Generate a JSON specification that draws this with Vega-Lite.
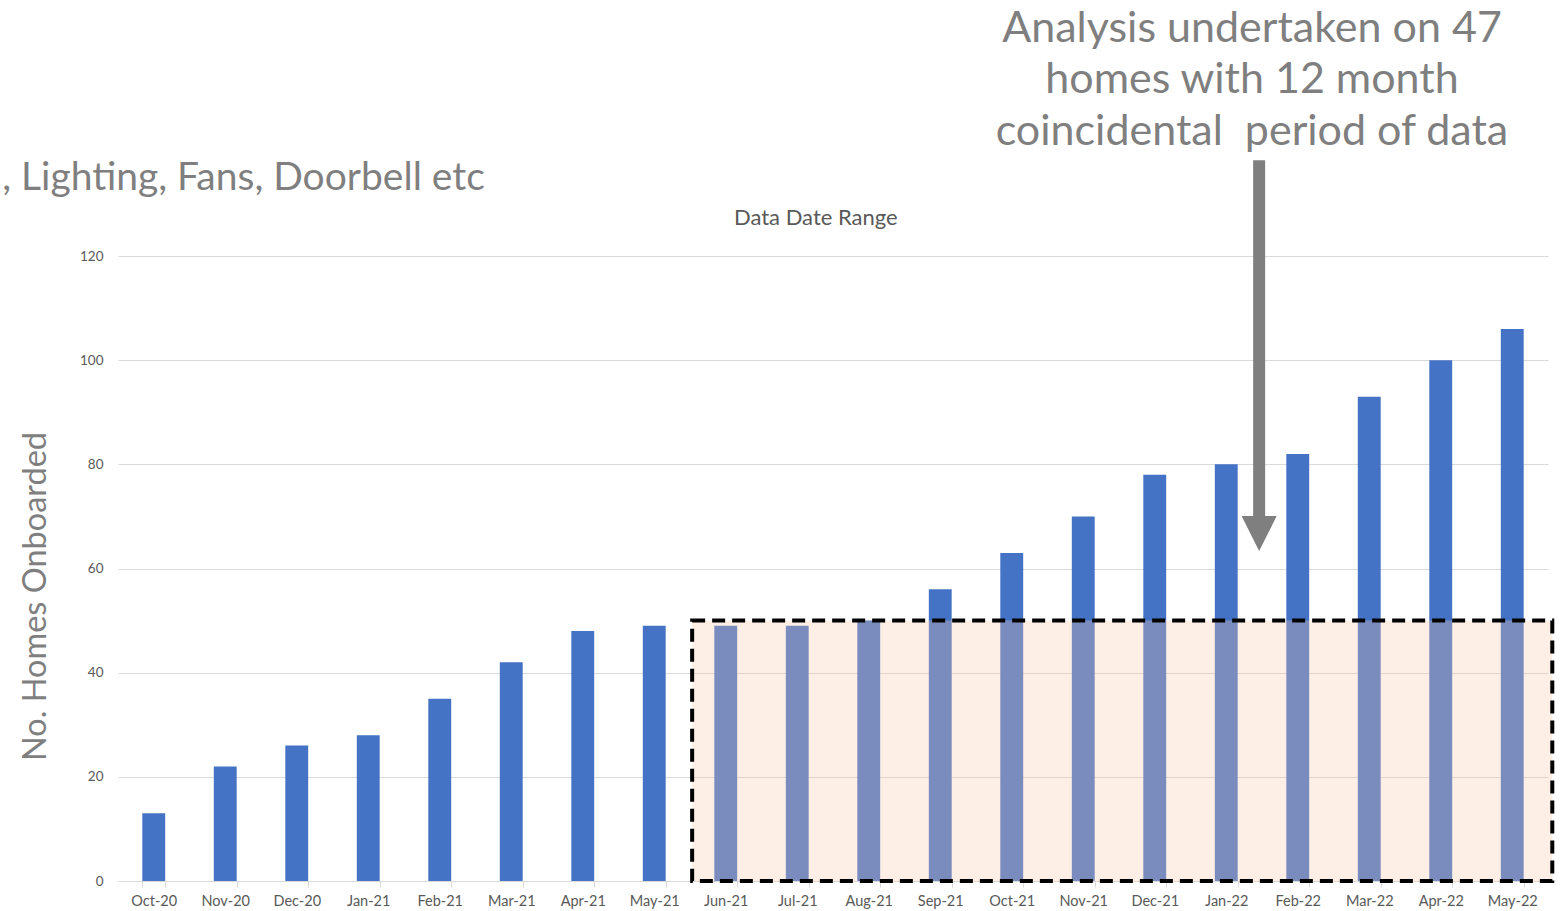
{
  "$schema": "https://vega.github.io/schema/vega-lite/v6.json",
  "autosize": "none",
  "width": 1430,
  "height": 625,
  "padding": {"left": 118, "top": 256, "right": 17, "bottom": 30},
  "background": "white",
  "config": {
    "font": "Lato",
    "view": {"stroke": null}
  },
  "datasets": {
    "homes": [
      {"month": "Oct-20", "homes": 13},
      {"month": "Nov-20", "homes": 22},
      {"month": "Dec-20", "homes": 26},
      {"month": "Jan-21", "homes": 28},
      {"month": "Feb-21", "homes": 35},
      {"month": "Mar-21", "homes": 42},
      {"month": "Apr-21", "homes": 48},
      {"month": "May-21", "homes": 49},
      {"month": "Jun-21", "homes": 49},
      {"month": "Jul-21", "homes": 49},
      {"month": "Aug-21", "homes": 50},
      {"month": "Sep-21", "homes": 56},
      {"month": "Oct-21", "homes": 63},
      {"month": "Nov-21", "homes": 70},
      {"month": "Dec-21", "homes": 78},
      {"month": "Jan-22", "homes": 80},
      {"month": "Feb-22", "homes": 82},
      {"month": "Mar-22", "homes": 93},
      {"month": "Apr-22", "homes": 100},
      {"month": "May-22", "homes": 106}
    ]
  },
  "layer": [
    {
      "data": {"name": "homes"},
      "mark": {"type": "bar", "color": "#4472C4"},
      "encoding": {
        "x": {
          "field": "month",
          "type": "ordinal",
          "sort": null,
          "scale": {"paddingInner": 0.68, "paddingOuter": 0.34},
          "axis": {
            "title": null,
            "labelAngle": 0,
            "labelFontSize": 14.5,
            "labelColor": "#595959",
            "labelPadding": 7,
            "tickBand": "extent",
            "tickSize": 6,
            "tickColor": "#d9d9d9",
            "domainColor": "#d9d9d9",
            "grid": false
          }
        },
        "y": {
          "field": "homes",
          "type": "quantitative",
          "scale": {"domain": [0, 120], "nice": false},
          "axis": {
            "title": "No. Homes Onboarded",
            "titleFontSize": 32.5,
            "titleFontWeight": "normal",
            "titleColor": "#7f7f7f",
            "titleAngle": -90,
            "titleAlign": "center",
            "titleBaseline": "alphabetic",
            "titleX": -73,
            "titleY": 340,
            "values": [0, 20, 40, 60, 80, 100, 120],
            "labelFontSize": 13.5,
            "labelColor": "#595959",
            "labelPadding": 15,
            "ticks": false,
            "tickSize": 0,
            "domain": false,
            "grid": true,
            "gridColor": "#d9d9d9"
          }
        }
      }
    },
    {
      "data": {"values": [{}]},
      "layer": [
        {
          "mark": {"type": "rect", "color": "#F8CBAD", "opacity": 0.3},
          "encoding": {
            "x": {"datum": 8.03, "type": "quantitative", "scale": {"domain": [0, 20], "nice": false, "zero": false}, "axis": null},
            "x2": {"datum": 20.06},
            "y": {"datum": 0, "type": "quantitative", "scale": {"domain": [0, 120], "nice": false}, "axis": null},
            "y2": {"datum": 50}
          }
        },
        {
          "mark": {"type": "rect", "fill": null, "fillOpacity": 0, "stroke": "black", "strokeWidth": 4, "strokeDash": [13, 7]},
          "encoding": {
            "x": {"datum": 8.03, "type": "quantitative", "scale": {"domain": [0, 20], "nice": false, "zero": false}, "axis": null},
            "x2": {"datum": 20.06},
            "y": {"datum": 0, "type": "quantitative", "scale": {"domain": [0, 120], "nice": false}, "axis": null},
            "y2": {"datum": 50}
          }
        },
        {
          "mark": {"type": "rule", "color": "#7f7f7f", "strokeWidth": 12, "strokeCap": "butt"},
          "encoding": {
            "x": {"datum": 15.96, "type": "quantitative", "scale": {"domain": [0, 20], "nice": false, "zero": false}, "axis": null},
            "y": {"datum": 138.4, "type": "quantitative", "scale": {"domain": [0, 120], "nice": false}, "axis": null},
            "y2": {"datum": 69}
          }
        },
        {
          "mark": {"type": "point", "shape": "M-1,-1L1,-1L0,1Z", "filled": true, "color": "#7f7f7f", "opacity": 1, "size": 1225, "strokeWidth": 0},
          "encoding": {
            "x": {"datum": 15.96, "type": "quantitative", "scale": {"domain": [0, 20], "nice": false, "zero": false}, "axis": null},
            "y": {"datum": 66.7, "type": "quantitative", "scale": {"domain": [0, 120], "nice": false}, "axis": null}
          }
        },
        {
          "mark": {"type": "text", "text": "Analysis undertaken on 47\nhomes with 12 month\ncoincidental\u00a0 period of data", "lineBreak": "\n", "lineHeight": 51.5, "align": "center", "baseline": "alphabetic", "fontSize": 43, "color": "#7f7f7f"},
          "encoding": {
            "x": {"datum": 15.86, "type": "quantitative", "scale": {"domain": [0, 20], "nice": false, "zero": false}, "axis": null},
            "y": {"datum": 161.1, "type": "quantitative", "scale": {"domain": [0, 120], "nice": false}, "axis": null}
          }
        },
        {
          "mark": {"type": "text", "text": ", Lighting, Fans, Doorbell etc", "align": "left", "baseline": "alphabetic", "fontSize": 39, "color": "#7f7f7f"},
          "encoding": {
            "x": {"datum": -1.62, "type": "quantitative", "scale": {"domain": [0, 20], "nice": false, "zero": false}, "axis": null},
            "y": {"datum": 132.7, "type": "quantitative", "scale": {"domain": [0, 120], "nice": false}, "axis": null}
          }
        },
        {
          "mark": {"type": "text", "text": "Data Date Range", "align": "center", "baseline": "alphabetic", "fontSize": 22, "color": "#595959"},
          "encoding": {
            "x": {"datum": 9.76, "type": "quantitative", "scale": {"domain": [0, 20], "nice": false, "zero": false}, "axis": null},
            "y": {"datum": 125.9, "type": "quantitative", "scale": {"domain": [0, 120], "nice": false}, "axis": null}
          }
        }
      ]
    }
  ],
  "resolve": {"scale": {"x": "independent", "y": "independent"}}
}
